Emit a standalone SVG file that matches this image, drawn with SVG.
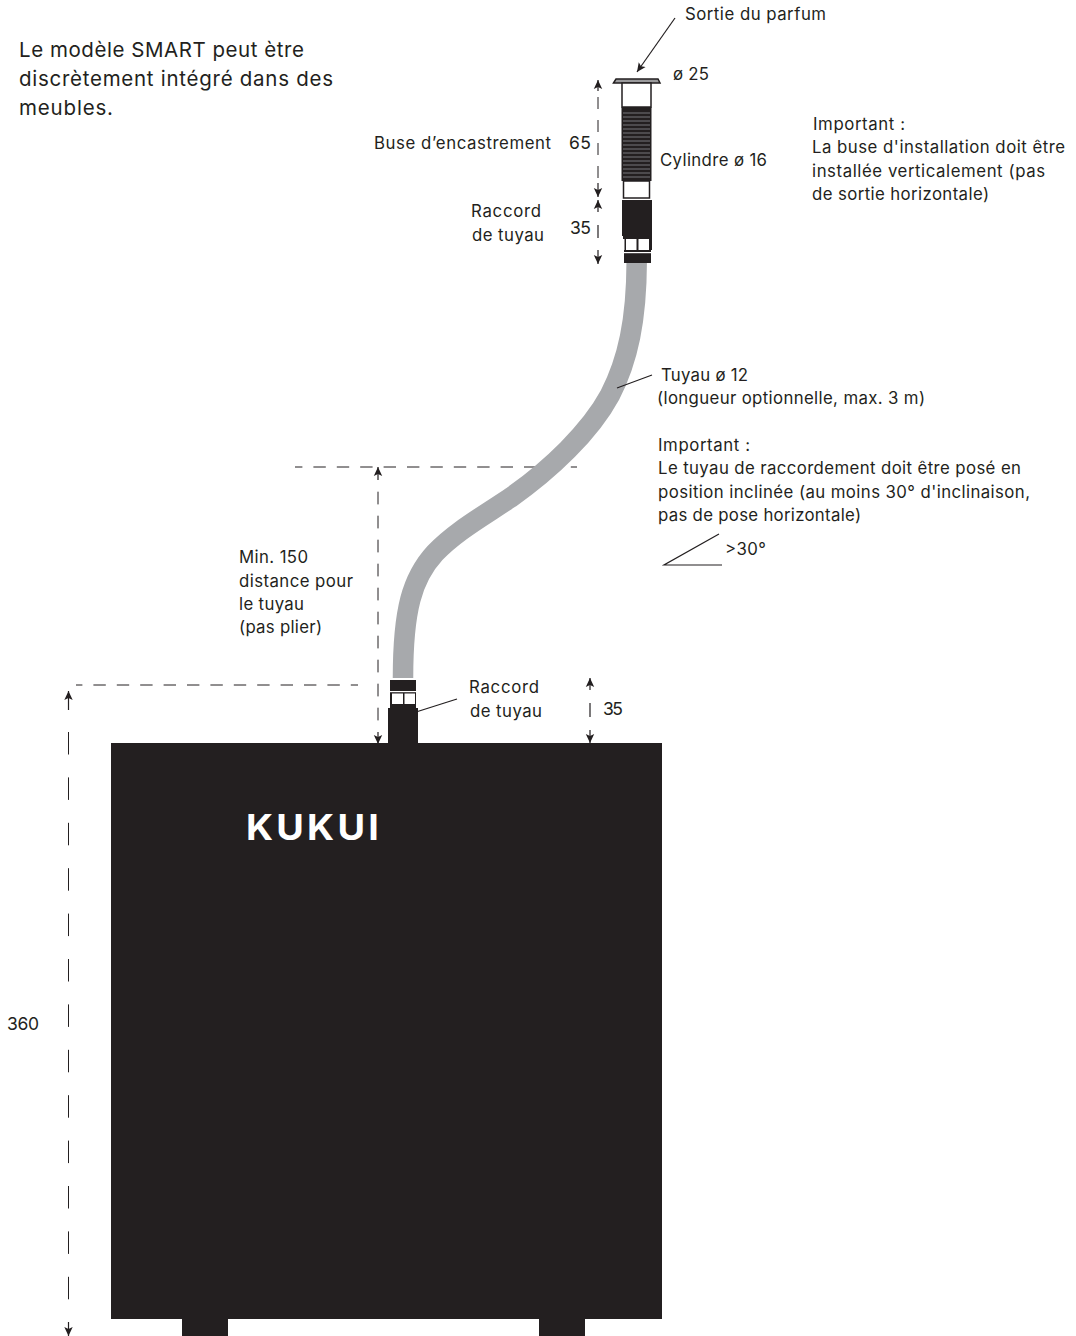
<svg xmlns="http://www.w3.org/2000/svg" width="1076" height="1336" viewBox="0 0 1076 1336">
<style>
text{font-family:Inter,"Liberation Sans",Arial,sans-serif;fill:#231f20}
.s{font-size:16.8px}
.n{font-size:17.500px}
.b{font-size:20.500px}
.d{fill:none;stroke:#231f20;stroke-width:1;stroke-dasharray:12.400 11}
.l{fill:none;stroke:#231f20;stroke-width:1.2}
.k{fill:#231f20}
.w{fill:#fff}
.h{fill:none;stroke:#a7a9ac;stroke-width:20.500}
</style>
<defs>
<marker id="a" markerWidth="12" markerHeight="12" refX="9" refY="5" orient="auto" markerUnits="userSpaceOnUse"><path d="M0 0.800L9 5L0 9.200L2 5Z" fill="#231f20"/></marker>
</defs>
<g id="connectors">
<path class="d" d="M295 467H577" style="stroke-dashoffset:5"/>
<path class="d" d="M76 685H358" style="stroke-dashoffset:6"/>
<path class="h" d="M636.700 262C636.500 320 628 360 610 395C590 432 550 470 510 498C480 518 455 532 435 553C412 578 403 610 403 678"/>
<path class="l" d="M675 18L637 72" marker-end="url(#a)"/>
<path class="l" d="M652 375L617 388"/>
<path class="l" d="M457 699L416 712"/>
<path class="l" d="M719 534L664 565H722"/>
<path class="l" d="M598 91V80" marker-end="url(#a)"/>
<path class="d" d="M598 97V178" style="stroke-dasharray:12 11"/>
<path class="l" d="M598 183V197" marker-end="url(#a)"/>
<path class="l" d="M598 212V200" marker-end="url(#a)"/>
<path class="l" d="M598 225V238"/>
<path class="l" d="M598 250V264" marker-end="url(#a)"/>
<path class="d" d="M378 491.700V721" style="stroke-dasharray:12.700 11.300"/>
<path class="l" d="M378 480V467" marker-end="url(#a)"/>
<path class="l" d="M378 732V744" marker-end="url(#a)"/>
<path class="l" d="M68.500 710V691" marker-end="url(#a)"/>
<path class="d" d="M68.500 732V1300" style="stroke-dasharray:22.500 22.900"/>
<path class="l" d="M68.500 1322V1336" marker-end="url(#a)"/>
<path class="l" d="M590 690V678" marker-end="url(#a)"/>
<path class="l" d="M590 703V717"/>
<path class="l" d="M590 730V743" marker-end="url(#a)"/>
</g>
<g id="nozzle">
<path d="M613.500 83L616 79H658L660 83Z" fill="#9a9a9c" stroke="#231f20" stroke-width="1.500"/>
<rect x="622" y="83" width="29" height="24" class="w" stroke="#231f20" stroke-width="1.500"/>
<rect x="621.500" y="107" width="30" height="74" class="k"/>
<path d="M623 113H650M623 117H650M623 121H650M623 125H650M623 129H650M623 133H650M623 137H650M623 141H650M623 145H650M623 149H650M623 153H650M623 157H650M623 161H650M623 165H650M623 169H650M623 173H650M623 177H650" stroke="#77777a" stroke-width="1"/>
<rect x="623.500" y="181" width="26" height="17" class="w" stroke="#231f20" stroke-width="1.500"/>
<rect x="622" y="200" width="30" height="36" class="k"/>
<path class="k" d="M623 236H652V250H651V263H624V250H624.500V239H623Z"/>
<rect class="w" x="626" y="239" width="10.500" height="11"/>
<rect class="w" x="638.500" y="239" width="10.500" height="11"/>
<rect class="w" x="624" y="252" width="27" height="1.200"/>
</g>
<g id="fitting-top">
<path class="k" d="M390 680H416V708H390Z"/>
<rect class="w" x="390" y="691" width="26" height="1.200"/>
<rect class="w" x="392" y="693.500" width="11" height="10.500"/>
<rect class="w" x="404.500" y="693.500" width="10.500" height="10.500"/>
<rect x="388" y="708" width="30" height="36" class="k"/>
</g>
<g id="unit">
<rect x="111" y="743" width="551" height="576" class="k"/>
<rect x="182" y="1318" width="46" height="18" class="k"/>
<rect x="539" y="1318" width="46" height="18" class="k"/>
<text x="246" y="840" style="font-size:35px;font-weight:700;fill:#fff;letter-spacing:3px" textLength="136" lengthAdjust="spacingAndGlyphs">KUKUI</text>
</g>
<g id="labels">
<text class="b" x="19" y="57" textLength="285">Le modèle SMART peut ètre</text>
<text class="b" x="19" y="86" textLength="314">discrètement intégré dans des</text>
<text class="b" x="19" y="115" textLength="94">meubles.</text>
<text class="s" x="685" y="20" textLength="141">Sortie du parfum</text>
<text class="s" x="673" y="80" textLength="36">ø 25</text>
<text class="s" x="374" y="149" textLength="177">Buse d’encastrement</text>
<text class="n" x="569" y="149" textLength="22">65</text>
<text class="s" x="660" y="166" textLength="107">Cylindre ø 16</text>
<text class="s" x="471" y="217" textLength="70">Raccord</text>
<text class="s" x="472" y="241" textLength="72">de tuyau</text>
<text class="n" x="570" y="234" textLength="21">35</text>
<text class="s" x="813" y="130" textLength="92">Important :</text>
<text class="s" x="812" y="153" textLength="253">La buse d'installation doit être</text>
<text class="s" x="812" y="177" textLength="233">installée verticalement (pas</text>
<text class="s" x="812" y="200" textLength="177">de sortie horizontale)</text>
<text class="s" x="661" y="381" textLength="87">Tuyau ø 12</text>
<text class="s" x="657" y="404" textLength="268">(longueur optionnelle, max. 3 m)</text>
<text class="s" x="658" y="451" textLength="92">Important :</text>
<text class="s" x="658" y="474" textLength="363">Le tuyau de raccordement doit être posé en</text>
<text class="s" x="658" y="498" textLength="372">position inclinée (au moins 30° d'inclinaison,</text>
<text class="s" x="658" y="521" textLength="203">pas de pose horizontale)</text>
<text class="s" x="725" y="555" textLength="41">&gt;30°</text>
<text class="s" x="239" y="563" textLength="69">Min. 150</text>
<text class="s" x="239" y="587" textLength="114">distance pour</text>
<text class="s" x="239" y="610" textLength="65">le tuyau</text>
<text class="s" x="239" y="633" textLength="83">(pas plier)</text>
<text class="s" x="469" y="693" textLength="70">Raccord</text>
<text class="s" x="470" y="717" textLength="72">de tuyau</text>
<text class="n" x="603" y="715" textLength="20">35</text>
<text class="n" x="7" y="1030" textLength="32">360</text>
</g>
</svg>
